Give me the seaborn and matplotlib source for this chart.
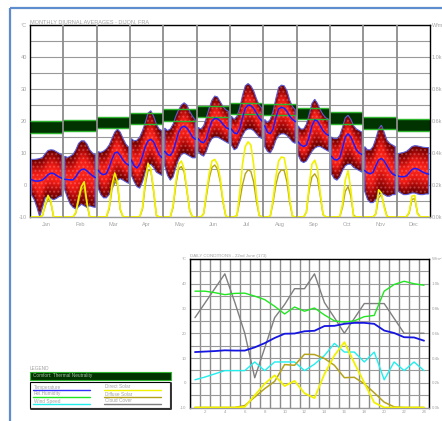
import numpy as np
import pandas as pd
import matplotlib
matplotlib.use("Agg")
import matplotlib.pyplot as plt
import seaborn as sns
from matplotlib.path import Path
from matplotlib.patches import PathPatch, Rectangle
from matplotlib.colors import LinearSegmentedColormap

sns.set_theme(style="white")
plt.rcParams["font.family"] = ["Liberation Sans", "DejaVu Sans"]

# ---------------------------------------------------------------------------
# Monthly diurnal averages, Dijon (values every second hour: 1, 3, ..., 23)
# ---------------------------------------------------------------------------
MONTHS = ["Jan", "Feb", "Mar", "Apr", "May", "Jun",
          "Jul", "Aug", "Sep", "Oct", "Nov", "Dec"]
HOURS_TOP = [1, 3, 5, 7, 9, 11, 13, 15, 17, 19, 21, 23]

T_MAX = [
    [8.0, 8.0, 8.1, 8.3, 8.6, 9.8, 10.8, 11.0, 10.9, 10.4, 9.9, 9.4],
    [9.0, 8.6, 9.0, 9.6, 11.0, 13.0, 13.8, 13.8, 12.8, 11.0, 10.0, 9.5],
    [10.4, 10.2, 10.6, 11.3, 12.5, 14.5, 16.5, 17.5, 16.5, 14.5, 12.8, 11.8],
    [14.5, 13.8, 14.0, 15.0, 17.0, 19.5, 22.5, 23.2, 21.5, 19.0, 17.5, 17.0],
    [17.8, 17.0, 17.5, 19.0, 21.5, 23.5, 25.0, 25.7, 25.0, 23.0, 21.5, 20.3],
    [18.0, 17.5, 18.5, 21.0, 24.0, 26.5, 27.8, 27.5, 26.0, 24.5, 23.5, 23.0],
    [21.5, 20.5, 21.5, 24.0, 28.0, 31.0, 31.7, 31.0, 29.5, 27.0, 25.0, 24.0],
    [20.5, 19.5, 20.5, 23.0, 27.0, 30.5, 31.2, 31.0, 29.5, 26.5, 24.5, 23.5],
    [18.5, 17.5, 17.5, 19.0, 22.0, 25.5, 26.8, 25.5, 23.5, 22.0, 21.0, 20.5],
    [15.0, 14.5, 14.5, 15.5, 18.0, 21.0, 21.8, 20.5, 18.5, 17.5, 17.0, 16.5],
    [12.0, 11.0, 11.0, 12.0, 14.5, 17.5, 18.7, 16.5, 14.0, 13.0, 12.5, 12.0],
    [9.8, 10.0, 10.2, 10.5, 11.2, 12.0, 12.3, 12.2, 12.0, 11.8, 11.7, 11.7],
]
T_AVG = [
    [1.7, 1.3, 1.2, 1.3, 1.6, 2.3, 3.2, 3.7, 3.6, 3.0, 2.5, 2.1],
    [1.8, 1.7, 1.6, 1.6, 2.6, 4.0, 4.8, 5.0, 4.4, 3.6, 2.9, 2.3],
    [4.7, 3.6, 3.2, 3.6, 5.5, 8.0, 10.0, 10.3, 9.2, 7.8, 6.8, 6.2],
    [7.8, 6.0, 5.3, 6.5, 9.0, 12.0, 13.8, 14.3, 13.5, 11.5, 9.5, 8.5],
    [10.5, 9.5, 9.2, 10.5, 13.5, 16.5, 18.0, 18.4, 17.8, 16.5, 15.0, 14.3],
    [14.5, 13.5, 13.2, 14.5, 17.5, 20.0, 20.8, 20.7, 20.0, 19.0, 18.0, 17.5],
    [17.5, 16.3, 16.0, 17.5, 21.0, 24.0, 25.0, 24.8, 24.0, 22.5, 21.0, 20.0],
    [18.5, 16.5, 16.0, 17.5, 21.0, 23.8, 24.3, 24.0, 23.0, 21.5, 20.5, 19.8],
    [13.5, 12.5, 12.0, 12.5, 15.0, 18.5, 20.3, 20.0, 18.5, 17.0, 16.0, 15.5],
    [9.0, 8.0, 7.8, 8.5, 11.5, 15.0, 16.0, 15.0, 13.0, 11.0, 10.0, 9.5],
    [4.5, 3.8, 3.5, 4.0, 6.0, 7.8, 8.3, 7.5, 6.0, 4.5, 3.5, 3.0],
    [2.8, 2.6, 2.6, 2.8, 3.8, 4.8, 5.2, 5.0, 4.5, 4.0, 3.6, 3.4],
]
T_MIN = [
    [-3.0, -4.5, -7.0, -10.0, -7.0, -4.0, -3.6, -4.2, -4.6, -4.2, -3.6, -3.4],
    [-1.5, -4.0, -6.0, -7.0, -7.5, -6.8, -6.0, -6.5, -7.0, -6.5, -6.8, -7.0],
    [-1.0, -3.0, -4.0, -4.0, -3.0, -1.0, 0.5, 1.5, 2.0, 1.5, 1.0, 0.5],
    [3.0, 1.0, -0.5, -1.0, 1.0, 4.0, 6.0, 6.5, 5.5, 4.0, 3.5, 3.0],
    [6.0, 3.0, 1.5, 2.5, 5.5, 8.0, 9.5, 10.0, 9.5, 9.0, 8.5, 8.5],
    [10.5, 9.5, 9.0, 10.5, 13.0, 14.5, 15.0, 15.0, 14.5, 14.0, 13.5, 13.0],
    [12.5, 11.0, 11.5, 13.5, 15.5, 17.0, 17.5, 17.5, 17.0, 16.0, 15.0, 14.5],
    [12.0, 10.5, 10.0, 11.5, 14.0, 15.5, 16.0, 16.0, 15.5, 14.5, 13.5, 13.0],
    [9.5, 7.5, 7.0, 7.5, 9.0, 10.5, 11.5, 12.0, 12.0, 11.5, 11.0, 10.5],
    [3.5, 2.0, 1.5, 2.5, 4.5, 6.0, 6.5, 6.5, 5.5, 5.0, 4.5, 4.0],
    [-2.0, -4.5, -5.5, -5.5, -4.5, -3.0, -2.5, -3.0, -3.5, -3.5, -3.0, -3.0],
    [-2.0, -2.5, -3.0, -3.0, -2.8, -2.5, -2.5, -2.8, -3.0, -3.0, -2.8, -2.8],
]
DIRECT = [
    [0, 0, 0, 0, 10, 80, 135, 100, 0, 0, 0, 0],
    [0, 0, 0, 0, 30, 120, 190, 220, 90, 0, 0, 0],
    [0, 0, 0, 0, 60, 200, 275, 220, 50, 0, 0, 0],
    [0, 0, 0, 0, 60, 230, 335, 300, 170, 10, 0, 0],
    [0, 0, 0, 70, 220, 330, 350, 300, 170, 40, 0, 0],
    [0, 0, 20, 150, 270, 350, 360, 330, 240, 100, 5, 0],
    [0, 0, 10, 150, 330, 440, 470, 450, 330, 140, 10, 0],
    [0, 0, 5, 110, 250, 350, 375, 370, 280, 110, 5, 0],
    [0, 0, 0, 30, 200, 330, 355, 300, 150, 15, 0, 0],
    [0, 0, 0, 0, 80, 230, 290, 170, 0, 0, 0, 0],
    [0, 0, 0, 0, 20, 170, 150, 60, 0, 0, 0, 0],
    [0, 0, 0, 0, 30, 130, 135, 20, 0, 0, 0, 0],
]
DIFFUSE = [
    [0, 0, 0, 0, 10, 70, 115, 90, 0, 0, 0, 0],
    [0, 0, 0, 0, 25, 100, 170, 190, 80, 0, 0, 0],
    [0, 0, 0, 0, 50, 170, 230, 200, 45, 0, 0, 0],
    [0, 0, 0, 0, 50, 200, 290, 290, 160, 10, 0, 0],
    [0, 0, 0, 60, 200, 300, 315, 280, 160, 40, 0, 0],
    [0, 0, 20, 130, 240, 310, 325, 300, 220, 90, 5, 0],
    [0, 0, 10, 100, 200, 270, 295, 285, 220, 100, 10, 0],
    [0, 0, 5, 90, 200, 270, 295, 290, 220, 90, 5, 0],
    [0, 0, 0, 30, 170, 250, 270, 240, 130, 15, 0, 0],
    [0, 0, 0, 0, 60, 160, 190, 130, 10, 0, 0, 0],
    [0, 0, 0, 0, 20, 120, 140, 70, 5, 0, 0, 0],
    [0, 0, 0, 0, 25, 110, 115, 25, 0, 0, 0, 0],
]
COMFORT_LO = [16.3, 16.8, 17.9, 19.0, 20.0, 21.2, 22.1, 21.9, 20.7, 19.1, 17.5, 16.9]
COMFORT_HI = [20.1, 20.3, 21.3, 22.6, 23.6, 24.8, 25.5, 25.4, 24.1, 22.7, 21.2, 20.5]

# ---------------------------------------------------------------------------
# Daily conditions, 22nd June (day 173), hours 1..24
# ---------------------------------------------------------------------------
HOURS_DAY = list(range(1, 25))
TEMP_DAY = [12.4, 12.6, 12.8, 13.1, 13.0, 13.0, 14.3, 16.0, 18.1, 19.8, 19.9, 20.8,
            21.0, 22.9, 23.0, 23.8, 24.2, 24.2, 23.8, 21.1, 20.1, 18.4, 18.3, 17.0]
RH_DAY = [37.0, 37.0, 36.4, 35.6, 36.1, 36.2, 35.0, 33.6, 30.9, 27.8, 30.6, 28.9,
          30.2, 27.4, 25.0, 24.5, 25.0, 26.7, 27.2, 37.0, 39.7, 41.0, 40.0, 39.4]
WIND_DAY = [1.2, 2.3, 3.6, 4.9, 4.9, 4.9, 8.4, 4.9, 8.4, 8.4, 8.4, 4.9,
            7.5, 11.0, 15.9, 12.4, 12.4, 8.4, 12.4, 1.2, 8.4, 4.9, 8.4, 4.9]
CLOUD_DAY = [26.3, 32.2, 38.1, 44.0, 32.5, 20.0, 2.0, 14.0, 26.3, 31.6, 38.0, 38.0,
             44.0, 32.4, 26.3, 20.0, 26.0, 32.0, 32.0, 32.0, 26.0, 20.0, 20.0, 20.0]
DIRECT_DAY = [0, 0, 0, 0, 0, 5, 98, 192, 260, 173, 215, 115,
              76, 270, 420, 528, 360, 200, 40, 0, 0, 0, 0, 0]
DIFFUSE_DAY = [0, 0, 0, 0, 0, 16, 84, 152, 211, 347, 341, 430,
               428, 396, 341, 241, 244, 192, 119, 43, 5, 0, 0, 0]

# ---------------------------------------------------------------------------
GREY = "#a3a3a3"
GRID = "#999999"
BLUE = "#1a1aff"
YELLOW = "#f2f200"
OLIVE = "#b5a31c"
FS_TOP = 4.0
FS_DAY = 3.2
FS_LEG = 3.4

rows = []
for m in range(12):
    for i, h in enumerate(HOURS_TOP):
        rows.append(dict(month=m, x=m * 24 + h, tmax=T_MAX[m][i], tmin=T_MIN[m][i],
                         tavg=T_AVG[m][i], direct=DIRECT[m][i], diffuse=DIFFUSE[m][i]))
top = pd.DataFrame(rows)
day = pd.DataFrame(dict(hour=HOURS_DAY, temp=TEMP_DAY, rh=RH_DAY, wind=WIND_DAY,
                        cloud=CLOUD_DAY, direct=DIRECT_DAY, diffuse=DIFFUSE_DAY))

W, H = 442, 421
fig = plt.figure(figsize=(W / 100, H / 100), dpi=100)
fig.patch.set_facecolor("white")


def px_axes(l, t, r, b, **kw):
    return fig.add_axes([l / W, 1 - b / H, (r - l) / W, (b - t) / H], **kw)


def style_temp_axis(a, rax, fs):
    a.set_ylim(-10, 50)
    a.set_yticks(range(-10, 51, 10))
    a.set_yticklabels(["-10", "0", "10", "20", "30", "40", "°C"])
    a.set_yticks(range(-5, 50, 10), minor=True)
    a.grid(True, axis="y", which="both", color=GRID, lw=0.8, zorder=0)
    a.tick_params(axis="y", which="both", length=0, pad=2.2, labelsize=fs, labelcolor=GREY)
    rax.set_ylim(0, 1200)
    rax.set_yticks(range(0, 1201, 200))
    rax.set_yticklabels(["0.0k", "0.2k", "0.4k", "0.6k", "0.8k", "1.0k", "W/m²"])
    rax.tick_params(axis="y", length=0, pad=1.5, labelsize=fs, labelcolor=GREY)
    rax.grid(False)
    for s in rax.spines.values():
        s.set_visible(False)
    for name, s in a.spines.items():
        s.set_visible(True)
        s.set_color("black" if name != "bottom" else GRID)
        s.set_linewidth(1.0)
    a.set_xlabel("")
    a.set_ylabel("")
    rax.set_xlabel("")
    rax.set_ylabel("")


# ---------------------------- monthly chart --------------------------------
ax = px_axes(30, 25, 430, 217)
ax.set_facecolor("white")
ax.set_xlim(0, 288)

# comfort (thermal neutrality) bands
ax.bar([m * 24 + 12 for m in range(12)],
       [hi - lo for lo, hi in zip(COMFORT_LO, COMFORT_HI)],
       bottom=COMFORT_LO, width=24, color="#003300", lw=0, zorder=1)

# temperature envelope: min..max with shading darkening away from the mean
band_verts, band_codes = [], []
for m in range(12):
    sub = top[top.month == m]
    poly = list(zip(sub.x, sub.tmax)) + list(zip(sub.x[::-1], sub.tmin[::-1]))
    band_verts += poly + [poly[0]]
    band_codes += [Path.MOVETO] + [Path.LINETO] * (len(poly) - 1) + [Path.CLOSEPOLY]
band_path = Path(band_verts, band_codes)

gx = np.linspace(0, 288, 1800)
gy = np.linspace(-10, 50, 800)
avg_i = np.interp(gx, top.x, top.tavg)
max_i = np.interp(gx, top.x, top.tmax)
min_i = np.interp(gx, top.x, top.tmin)
GX, GY = np.meshgrid(gx, gy)
up = (GY - avg_i) / np.maximum(max_i - avg_i, 0.2)
dn = (avg_i - GY) / np.maximum(avg_i - min_i, 0.2)
shade = np.clip(np.where(GY >= avg_i, up, dn), 0, 1)
band_cmap = LinearSegmentedColormap.from_list(
    "band", ["#ff2a1e", "#ec1a14", "#a80808", "#600000"])
img = ax.imshow(shade, extent=(0, 288, -10, 50), origin="lower", cmap=band_cmap,
                vmin=0, vmax=1, aspect="auto", interpolation="bilinear", zorder=2)
outline = PathPatch(band_path, transform=ax.transData, facecolor="none",
                    edgecolor="#5c5cd6", lw=0.8, zorder=3)
ax.add_patch(outline)
img.set_clip_path(outline)
ax.add_patch(PathPatch(band_path, transform=ax.transData, facecolor="none",
                       edgecolor=(1.0, 0.65, 0.65, 0.3), lw=0, hatch="....",
                       zorder=2.5))

# band edges of the comfort zone
ax.hlines(COMFORT_LO + COMFORT_HI,
          [m * 24 for m in range(12)] * 2, [m * 24 + 24 for m in range(12)] * 2,
          color="#2fb52f", lw=1.0, zorder=3.5)

sns.lineplot(data=top, x="x", y="tavg", units="month", estimator=None, ax=ax,
             color=BLUE, lw=1.1, zorder=4, legend=False)

for m in range(1, 12):
    ax.axvline(m * 24, color="#8c8c8c", lw=1.3, zorder=5)

ax.set_xticks([m * 24 + 12 for m in range(12)])
ax.set_xticklabels(MONTHS)
ax.set_xticks([m * 24 + k for m in range(12) for k in (6, 18)], minor=True)
ax.tick_params(axis="x", which="both", direction="in", length=2.5, width=0.6,
               color="#444444", pad=3.5, labelsize=FS_TOP, labelcolor=GREY)

ax2 = ax.twinx()
sns.lineplot(data=top, x="x", y="diffuse", units="month", estimator=None, ax=ax2,
             color=OLIVE, lw=1.0, legend=False)
sns.lineplot(data=top, x="x", y="direct", units="month", estimator=None, ax=ax2,
             color=YELLOW, lw=1.2, legend=False)
ax2.set_xlim(0, 288)
style_temp_axis(ax, ax2, FS_TOP)

# ---------------------------- daily chart ----------------------------------
bx = px_axes(189.5, 259, 429.5, 407.5)
bx.set_facecolor("white")
bx.set_xlim(0.45, 24.55)
bx.set_xticks(range(2, 25, 2))
bx.set_xticks([h + 0.5 for h in range(0, 25)], minor=True)
bx.grid(True, axis="x", which="minor", color="#8c8c8c", lw=1.0, zorder=0)
bx.tick_params(axis="x", which="both", length=0, pad=2.0, labelsize=FS_DAY,
               labelcolor=GREY)

sns.lineplot(data=day, x="hour", y="cloud", ax=bx, color="#7f7f7f", lw=1.0, zorder=3)
sns.lineplot(data=day, x="hour", y="rh", ax=bx, color="#22e622", lw=1.0, zorder=3)
sns.lineplot(data=day, x="hour", y="wind", ax=bx, color="#22eeee", lw=1.0, zorder=3)
sns.lineplot(data=day, x="hour", y="temp", ax=bx, color="#1515e0", lw=1.3, zorder=4)

bx2 = bx.twinx()
sns.lineplot(data=day, x="hour", y="diffuse", ax=bx2, color=OLIVE, lw=1.1)
sns.lineplot(data=day, x="hour", y="direct", ax=bx2, color=YELLOW, lw=1.3)
bx2.set_xlim(0.45, 24.55)
style_temp_axis(bx, bx2, FS_DAY)

# ---------------------------- frame, titles, legend ------------------------
ov = fig.add_axes([0, 0, 1, 1], zorder=20)
ov.set_xlim(0, W)
ov.set_ylim(H, 0)
ov.axis("off")
ov.patch.set_alpha(0)

ov.plot([10, 10], [8, H], color="#5f8ccc", lw=1.6, solid_capstyle="butt")
ov.plot([10, W], [8, 8], color="#5f8ccc", lw=1.6, solid_capstyle="butt")

ov.text(30, 22, "MONTHLY DIURNAL AVERAGES - DIJON, FRA", fontsize=FS_TOP, color=GREY,
        va="center", ha="left")
ov.text(190, 256, "DAILY CONDITIONS - 22nd June (173)", fontsize=FS_DAY, color=GREY,
        va="center", ha="left")

ov.text(30, 368, "LEGEND", fontsize=FS_LEG, color=GREY, va="center", ha="left")
ov.add_patch(Rectangle((30, 371.5), 141, 8, facecolor="#003300", edgecolor="#2fb52f",
                       lw=0.8))
ov.text(33, 375.6, "Comfort: Thermal Neutrality", fontsize=FS_LEG, color="#a8bca8",
        va="center", ha="left")
ov.add_patch(Rectangle((30, 382), 140, 26, facecolor="white", edgecolor="black", lw=0.8))
ov.plot([30.5, 170.5, 170.5], [408.5, 408.5, 382.5], color="#333333", lw=1.4)

legend_items = [
    ("Temperature", "#3030ff", 33, 387),
    ("Rel.Humidity", "#22e622", 33, 394),
    ("Wind Speed", "#22eeee", 33, 401),
    ("Direct Solar", YELLOW, 104, 387),
    ("Diffuse Solar", OLIVE, 104, 394),
    ("Cloud Cover", "#7f7f7f", 104, 401),
]
for name, col, lx, ly in legend_items:
    ov.text(lx + 1, ly, name, fontsize=FS_LEG, color=GREY, va="center", ha="left")
    ov.plot([lx, lx + 57], [ly + 3, ly + 3], color=col, lw=1.0)

fig.savefig("out.png", dpi=100, facecolor="white")
